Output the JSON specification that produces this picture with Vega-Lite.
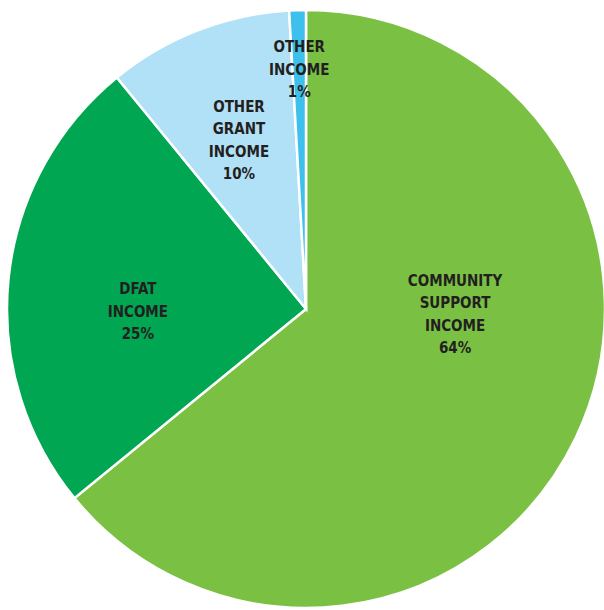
{
  "$schema": "https://vega.github.io/schema/vega-lite/v6.json",
  "width": 612,
  "height": 618,
  "autosize": "none",
  "padding": 0,
  "background": "white",
  "config": {"view": {"stroke": null}},
  "data": {
    "values": [
      {"category": "Community Support Income", "label": "COMMUNITY\nSUPPORT\nINCOME\n64%", "value": 64.1, "order": 1},
      {"category": "DFAT Income", "label": "DFAT\nINCOME\n25%", "value": 25, "order": 2},
      {"category": "Other Grant Income", "label": "OTHER\nGRANT\nINCOME\n10%", "value": 10, "order": 3},
      {"category": "Other Income", "label": "OTHER\nINCOME\n1%", "value": 0.9, "order": 4}
    ]
  },
  "encoding": {
    "theta": {"field": "value", "type": "quantitative", "stack": true},
    "order": {"field": "order", "type": "quantitative", "sort": "ascending"}
  },
  "layer": [
    {
      "mark": {"type": "arc", "outerRadius": 299, "stroke": "white", "strokeWidth": 2.5},
      "encoding": {
        "color": {
          "field": "category",
          "type": "nominal",
          "scale": {
            "domain": ["Community Support Income", "DFAT Income", "Other Grant Income", "Other Income"],
            "range": ["#7AC143", "#00A651", "#B1E1F6", "#3DC1EC"]
          },
          "legend": null
        }
      }
    },
    {
      "mark": {"type": "text", "radius": 165, "dy": -99, "lineBreak": "\n", "lineHeight": 22.5, "font": "DejaVu Sans Condensed, DejaVu Sans, sans-serif", "fontSize": 15, "fontWeight": "bold", "color": "#231F20", "align": "center", "baseline": "middle"},
      "encoding": {"text": {"condition": {"test": "datum.category === 'Community Support Income'", "field": "label"}, "value": ""}}
    },
    {
      "mark": {"type": "text", "radius": 169, "dy": -3, "lineBreak": "\n", "lineHeight": 22.5, "font": "DejaVu Sans Condensed, DejaVu Sans, sans-serif", "fontSize": 15, "fontWeight": "bold", "color": "#231F20", "align": "center", "baseline": "middle"},
      "encoding": {"text": {"condition": {"test": "datum.category === 'DFAT Income'", "field": "label"}, "value": ""}}
    },
    {
      "mark": {"type": "text", "radius": 185, "dy": -30, "lineBreak": "\n", "lineHeight": 22.5, "font": "DejaVu Sans Condensed, DejaVu Sans, sans-serif", "fontSize": 15, "fontWeight": "bold", "color": "#231F20", "align": "center", "baseline": "middle"},
      "encoding": {"text": {"condition": {"test": "datum.category === 'Other Grant Income'", "field": "label"}, "value": ""}}
    },
    {
      "mark": {"type": "text", "radius": 240, "dy": -22, "lineBreak": "\n", "lineHeight": 22.5, "font": "DejaVu Sans Condensed, DejaVu Sans, sans-serif", "fontSize": 15, "fontWeight": "bold", "color": "#231F20", "align": "center", "baseline": "middle"},
      "encoding": {"text": {"condition": {"test": "datum.category === 'Other Income'", "field": "label"}, "value": ""}}
    }
  ]
}
